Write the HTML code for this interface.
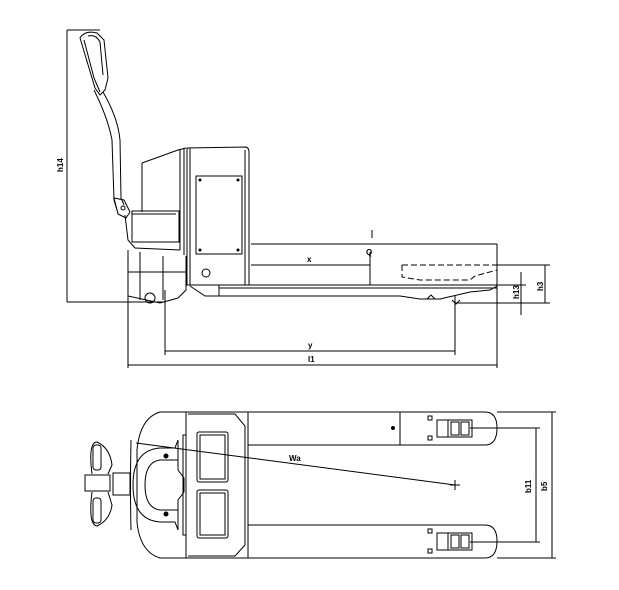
<!DOCTYPE html>
<html><head><meta charset="utf-8"><style>
html,body{margin:0;padding:0;background:#fff;}
svg{display:block}
text{font-family:"Liberation Sans",sans-serif;font-size:8px;font-weight:bold;fill:#000}
</style></head><body>
<svg width="619" height="590" viewBox="0 0 619 590" xmlns="http://www.w3.org/2000/svg" fill="none" stroke="#000" stroke-width="1">
<!-- ===== SIDE VIEW ===== -->
<!-- h14 -->
<line x1="67" y1="30" x2="67" y2="302"/>
<line x1="67" y1="30" x2="100" y2="30"/>
<line x1="67" y1="302" x2="165" y2="302"/>
<text x="0" y="0" transform="translate(63,172) rotate(-90)" stroke="none">h14</text>
<!-- handle -->
<path d="M80,38 Q85,30 97,33 L104,40 L108,78 L105,90 L100,95 L95,88 Z"/>
<path d="M84,40 L94,78 L100,92"/>
<path d="M88,36 Q96,34 100,42 L103,75"/>
<path d="M94,90 Q108,118 112,140 L114,200 L117,210"/>
<path d="M103,92 Q118,118 120,140 L121,198 L124,205"/>
<path d="M114,198 L124,200 L130,212 L126,218 L118,214 Z"/>
<circle cx="123" cy="208" r="2"/>
<!-- battery hood -->
<path d="M142,163 L142,212 M142,163 L178,150 L186,148 M180,150 L180,250 M184,149 L184,255"/>
<rect x="132" y="211" width="47" height="31"/>
<line x1="132" y1="214" x2="176" y2="214"/>
<path d="M125,215 L128,240 L135,248 L180,250"/>
<!-- motor block -->
<path d="M128,250 L128,296 L160,303 L178,298 L186,290 L186,256"/>
<line x1="140" y1="252" x2="140" y2="300"/>
<line x1="163" y1="256" x2="163" y2="300"/>
<line x1="128" y1="272" x2="186" y2="272"/>
<circle cx="150" cy="298" r="5"/>
<!-- chassis -->
<path d="M187,148 L246,147 Q249,148 249,152 L249,285 L187,285 Z"/>
<line x1="190" y1="148" x2="190" y2="285"/>
<line x1="245" y1="150" x2="245" y2="285"/>
<rect x="196" y="176" width="46" height="78"/>
<circle cx="200" cy="180" r="1" fill="#000"/><circle cx="238" cy="180" r="1" fill="#000"/>
<circle cx="200" cy="250" r="1" fill="#000"/><circle cx="238" cy="250" r="1" fill="#000"/>
<circle cx="206" cy="273" r="4"/>
<!-- fork side -->
<line x1="190" y1="285" x2="497" y2="285"/>
<line x1="219" y1="288" x2="497" y2="288"/>
<path d="M219,285 L219,296 L400,296 L420,299 L440,299 L470,292 L490,290 L497,286"/>
<path d="M190,286 L205,296 L219,296"/>
<path d="M427,299 L431,295 L435,299 Z M452,300 L456,304 L460,300"/>
<!-- l -->
<line x1="251" y1="244" x2="497" y2="244"/>
<line x1="372" y1="230" x2="372" y2="238"/>
<text x="366" y="255" stroke="none">Q</text>
<!-- x -->
<line x1="251" y1="265" x2="370" y2="265"/>
<line x1="370" y1="252" x2="370" y2="285"/>
<text x="307" y="262" stroke="none">x</text>
<!-- dashed load -->
<path d="M402,265 L497,265 L497,270 M402,265 L402,277 L420,280 L470,280 L475,276 L497,270" stroke-dasharray="6,3"/>
<!-- verticals -->
<line x1="497" y1="244" x2="497" y2="368"/>
<line x1="497" y1="265" x2="550" y2="265"/>
<line x1="455" y1="303" x2="550" y2="303"/>
<line x1="545" y1="265" x2="545" y2="303"/>
<text x="0" y="0" transform="translate(543,291) rotate(-90)" stroke="none">h3</text>
<line x1="521" y1="272" x2="521" y2="315"/>
<line x1="497" y1="285" x2="526" y2="285"/>
<text x="0" y="0" transform="translate(519,299) rotate(-90)" stroke="none">h13</text>
<!-- y, l1 -->
<line x1="455" y1="296" x2="455" y2="355"/>
<line x1="165" y1="351" x2="455" y2="351"/>
<text x="308" y="348" stroke="none">y</text>
<line x1="128" y1="365" x2="497" y2="365"/>
<text x="308" y="362" stroke="none">l1</text>
<line x1="128" y1="290" x2="128" y2="368"/>
<line x1="165" y1="290" x2="165" y2="355"/>
<!-- ===== TOP VIEW ===== -->
<path d="M186,412 L160,412 Q140,418 137,450 L137,522 Q140,552 160,558 L186,558"/>
<path d="M131,440 Q130,485 131,530"/>
<rect x="186" y="412" width="62" height="146"/>
<path d="M188,414 L235,414 L245,426 L245,545 L235,556 L188,556"/>
<rect x="197" y="432" width="31" height="50" rx="2"/>
<rect x="200" y="435" width="25" height="44"/>
<rect x="197" y="490" width="31" height="48" rx="2"/>
<rect x="200" y="493" width="25" height="42"/>
<!-- U shape -->
<path d="M178,440 L175,448 L160,448 Q133,450 133,485 Q133,520 160,522 L175,522 L178,530"/>
<path d="M178,460 L160,460 Q145,462 145,485 Q145,508 160,510 L178,510"/>
<path d="M178,440 L178,470 L184,478 L184,492 L178,500 L178,530"/>
<rect x="183" y="435" width="3" height="100"/>
<circle cx="166" cy="456" r="2" fill="#000"/><circle cx="166" cy="514" r="2" fill="#000"/>
<!-- tiller top -->
<rect x="113" y="473" width="17" height="22"/>
<rect x="85" y="475" width="25" height="16"/>
<path d="M92,474 Q88,442 97,442 Q110,448 112,465 L108,474 M92,492 Q88,525 97,526 Q110,520 112,505 L108,492"/>
<rect x="93" y="445" width="8" height="25" rx="3"/><rect x="93" y="498" width="8" height="25" rx="3"/>
<!-- forks top -->
<path d="M248,412 L485,412 Q497,412 497,428 Q497,445 485,445 L248,445"/>
<path d="M248,525 L485,525 Q497,525 497,541 Q497,558 485,558 L248,558"/>
<line x1="400" y1="412" x2="400" y2="445"/>
<circle cx="393" cy="428" r="1.5" fill="#000"/>
<rect x="437" y="420" width="35" height="17"/><line x1="448" y1="420" x2="448" y2="437"/><rect x="451" y="422" width="8" height="13"/><rect x="461" y="422" width="8" height="13"/>
<rect x="437" y="533" width="35" height="17"/><line x1="448" y1="533" x2="448" y2="550"/><rect x="451" y="535" width="8" height="13"/><rect x="461" y="535" width="8" height="13"/>
<rect x="428" y="416" width="4" height="4"/><rect x="428" y="436" width="4" height="4"/>
<rect x="428" y="529" width="4" height="4"/><rect x="428" y="549" width="4" height="4"/>
<!-- Wa -->
<line x1="136" y1="443" x2="455" y2="485"/>
<line x1="450" y1="485" x2="460" y2="485"/><line x1="455" y1="480" x2="455" y2="490"/>
<text x="289" y="461" stroke="none">Wa</text>
<!-- b11 b5 -->
<line x1="470" y1="428" x2="540" y2="428"/>
<line x1="470" y1="542" x2="540" y2="542"/>
<line x1="536" y1="428" x2="536" y2="542"/>
<line x1="497" y1="412" x2="556" y2="412"/>
<line x1="497" y1="558" x2="556" y2="558"/>
<line x1="552" y1="412" x2="552" y2="558"/>
<text x="0" y="0" transform="translate(531,493) rotate(-90)" stroke="none">b11</text>
<text x="0" y="0" transform="translate(547,491) rotate(-90)" stroke="none">b5</text>
</svg>
</body></html>
